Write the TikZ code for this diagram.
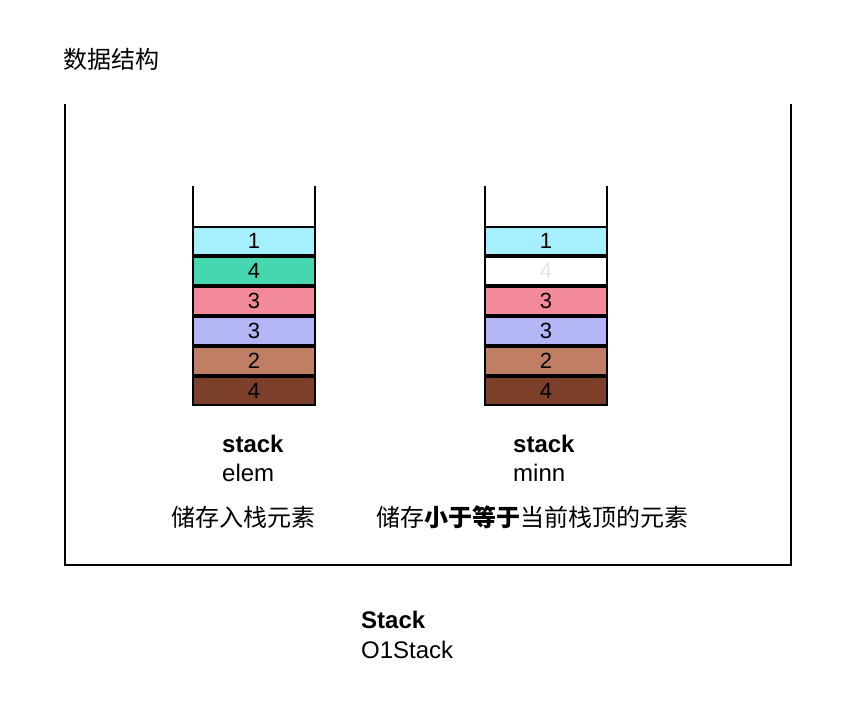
\documentclass[tikz,border=0pt]{standalone}
\usepackage{fontspec}
\setmainfont{Liberation Sans}
\newfontfamily\cjk{Noto Sans CJK SC}
\definecolor{ccyan}{HTML}{A5F0FC}
\definecolor{cgreen}{HTML}{46D6B0}
\definecolor{cpink}{HTML}{F28A9A}
\definecolor{clav}{HTML}{B3B5F5}
\definecolor{cbrown}{HTML}{C07F65}
\definecolor{cdark}{HTML}{7B3F2A}
\definecolor{cfaint}{HTML}{E4E4E4}
\begin{document}
\begin{tikzpicture}[x=1pt,y=-1pt,
  cell/.style={draw=black,line width=2.5pt,outer sep=0pt,minimum width=122pt,minimum height=28pt,inner sep=0pt,anchor=north west,font=\fontsize{22}{26}\selectfont},
  wall/.style={line width=2.5pt},
  frame/.style={line width=1.5pt},
  lbl/.style={anchor=west,inner sep=0pt,font=\fontsize{24}{28}\selectfont},
  lblb/.style={anchor=west,inner sep=0pt,font=\bfseries\fontsize{24}{28}\selectfont},
  zh/.style={inner sep=0pt,font=\cjk\fontsize{24}{28}\selectfont}]
\useasboundingbox (0,0) rectangle (854,702);
\node[zh,anchor=west] (title) at (63,59) {数据结构};
\coordinate (ftl) at (65,104);
\coordinate (fbl) at (65,565);
\coordinate (fbr) at (791,565);
\coordinate (ftr) at (791,104);
\draw[frame] (ftl) -- (fbl) -- (fbr) -- (ftr);
% left stack
\node[cell,fill=ccyan] (a1) at (193,227) {1};
\node[cell,fill=cgreen] (a2) at (193,257) {4};
\node[cell,fill=cpink] (a3) at (193,287) {3};
\node[cell,fill=clav] (a4) at (193,317) {3};
\node[cell,fill=cbrown] (a5) at (193,347) {2};
\node[cell,fill=cdark] (a6) at (193,377) {4};
\coordinate (awl) at (193,186);
\coordinate (awr) at (315,186);
\draw[wall] (awl) -- (awl |- a1.north);
\draw[wall] (awr) -- (awr |- a1.north);
% right stack
\node[cell,fill=ccyan] (b1) at (485,227) {1};
\node[cell,fill=white,text=cfaint] (b2) at (485,257) {4};
\node[cell,fill=cpink] (b3) at (485,287) {3};
\node[cell,fill=clav] (b4) at (485,317) {3};
\node[cell,fill=cbrown] (b5) at (485,347) {2};
\node[cell,fill=cdark] (b6) at (485,377) {4};
\coordinate (bwl) at (485,186);
\coordinate (bwr) at (607,186);
\draw[wall] (bwl) -- (bwl |- b1.north);
\draw[wall] (bwr) -- (bwr |- b1.north);
% labels
\node[lblb] (s1) at (222,444) {stack};
\node[lbl] (e1) at (222,473) {elem};
\node[lblb] (s2) at (513,444) {stack};
\node[lbl] (e2) at (513,473) {minn};
\node[zh] (d1) at (243,517) {储存入栈元素};
\node[zh] (d2) at (532,517) {储存\textbf{小于等于}当前栈顶的元素};
\node[lblb] (s3) at (361,620) {Stack};
\node[lbl] (e3) at (361,650) {O1Stack};
\end{tikzpicture}
\end{document}
